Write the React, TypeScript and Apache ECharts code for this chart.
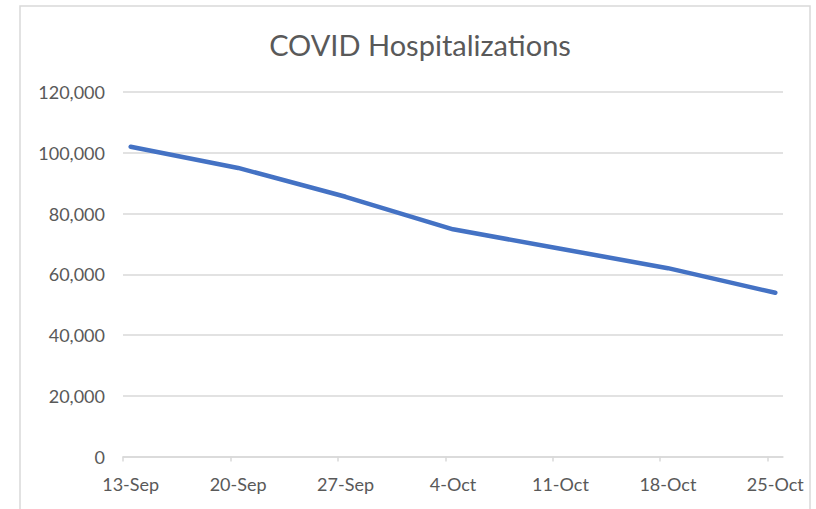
import React, { useEffect, useRef } from "react";
import * as echarts from "echarts";

const dayOffsets = [0, 7, 14, 21, 28, 35, 42];
const tickLabels = ["13-Sep", "20-Sep", "27-Sep", "4-Oct", "11-Oct", "18-Oct", "25-Oct"];
const hospitalizations = [102000, 95000, 85500, 74800, 68400, 62000, 53900];
const yTicks = [0, 20000, 40000, 60000, 80000, 100000, 120000];

export default function App() {
  const ref = useRef<HTMLDivElement>(null);
  useEffect(() => {
    if (!ref.current) return;
    const chart = echarts.init(ref.current, null, { renderer: "svg" });
    const font = "Lato, 'Open Sans', sans-serif";
    chart.setOption({
      animation: false,
      backgroundColor: "#ffffff",
      title: {
        text: "COVID Hospitalizations",
        left: 415,
        textAlign: "center",
        top: 25,
        textStyle: { fontFamily: font, fontSize: 29, fontWeight: "normal", color: "#595959" },
      },
      graphic: [
        {
          type: "rect",
          shape: { x: 20, y: 6, width: 790, height: 540 },
          style: { fill: "none", stroke: "#d9d9d9", lineWidth: 1.5 },
          silent: true,
          z: -1,
        },
      ],
      grid: { left: 123, right: 33, top: 92, bottom: 52.5, containLabel: false },
      xAxis: {
        type: "value",
        min: 0,
        max: 43,
        splitLine: { show: false },
        axisLine: { show: true, lineStyle: { color: "#d9d9d9", width: 1.5 } },
        axisTick: {
          show: true,
          length: 5,
          lineStyle: { color: "#d9d9d9", width: 1.5 },
          customValues: dayOffsets,
        },
        axisLabel: {
          customValues: dayOffsets.map((d) => d + 0.5),
          formatter: (v: number) => {
            const i = dayOffsets.indexOf(Math.round(v - 0.5));
            return i >= 0 ? tickLabels[i] : "";
          },
          margin: 18,
          fontFamily: font,
          fontSize: 18,
          color: "#595959",
        },
      },
      yAxis: {
        type: "value",
        min: 0,
        max: 120000,
        interval: 20000,
        axisLine: { show: false },
        axisTick: { show: false },
        splitLine: { lineStyle: { color: "#d9d9d9", width: 1.5 } },
        axisLabel: {
          customValues: yTicks,
          formatter: (v: number) => v.toLocaleString("en-US"),
          margin: 18,
          fontFamily: font,
          fontSize: 18,
          color: "#595959",
        },
      },
      series: [
        {
          type: "line",
          data: dayOffsets.map((d, i) => [d + 0.5, hospitalizations[i]]),
          symbol: "none",
          lineStyle: { color: "#4472C4", width: 4.5, cap: "round", join: "round" },
        },
      ],
    });
    return () => chart.dispose();
  }, []);
  return (
    <div
      ref={ref}
      style={{ position: "fixed", left: 0, top: 0, width: 816, height: 509 }}
    />
  );
}
